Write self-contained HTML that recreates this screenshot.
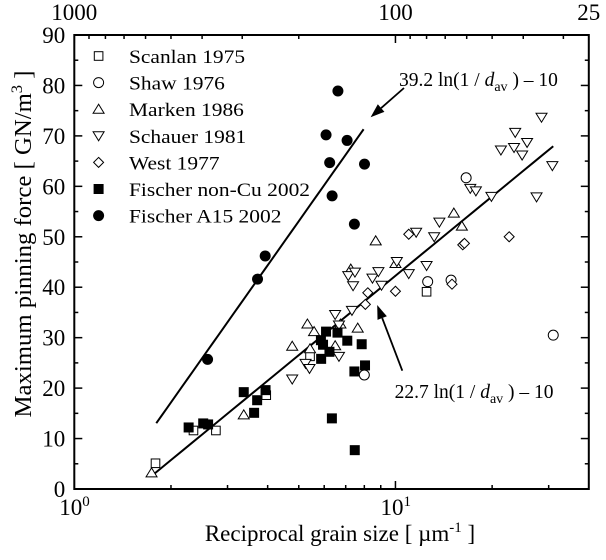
<!DOCTYPE html>
<html><head><meta charset="utf-8"><style>
html,body{margin:0;padding:0;background:#fff;}
svg{display:block;font-family:"Liberation Serif","DejaVu Serif",serif;}
</style></head><body>
<svg id="chart" width="606" height="560" viewBox="0 0 606 560" xmlns="http://www.w3.org/2000/svg"></svg>
<script>
const scanlan=[[1.79,5.1],[2.35,11.6],[2.76,11.6],[3.96,18.6],[5.42,26.3],[12.5,39.1]];
const shaw=[[8.0,22.6],[12.6,41.1],[14.9,41.4],[16.6,61.7],[31.0,30.5]];
const marken=[[1.74,3.2],[3.37,14.7],[4.77,28.3],[5.32,32.7],[5.58,31.2],[5.42,27.8],[6.49,28.4],[6.74,32.7],[7.63,31.9],[7.26,43.6],[8.68,49.2],[10.0,44.7],[15.2,54.7],[16.1,52.1]];
const schauer=[[4.77,21.8],[5.25,24.9],[5.40,23.9],[6.67,26.3],[6.49,34.6],[7.32,35.4],[6.67,32.5],[7.13,42.3],[7.48,43.0],[7.38,40.3],[8.48,41.8],[8.85,43.1],[9.05,40.4],[10.1,45.1],[11.0,42.7],[11.6,50.9],[12.5,44.3],[13.2,50.0],[13.7,52.9],[17.1,59.6],[17.8,59.1],[19.9,58.0],[21.3,67.2],[23.4,67.7],[23.6,70.7],[24.8,66.2],[25.7,68.7],[27.5,57.9],[28.5,73.7],[30.8,64.1]];
const west=[[8.06,36.6],[8.2,38.9],[10.0,39.2],[11.0,50.5],[15.0,40.6],[16.2,48.4],[16.4,48.7],[22.6,50.0]];
const fischerNonCu=[[2.27,12.2],[2.52,13.0],[2.61,12.8],[3.37,19.2],[3.63,15.1],[3.71,17.6],[3.94,19.6],[5.87,25.8],[6.08,31.2],[5.86,29.5],[5.95,28.6],[6.23,27.2],[6.60,31.0],[7.08,29.4],[6.34,14.0],[7.45,23.3],[7.85,28.7],[8.04,24.5],[7.47,7.7]];
const fischerA15=[[2.60,25.7],[3.72,41.6],[3.93,46.2],[6.08,70.2],[6.24,64.7],[6.35,58.1],[6.62,78.9],[7.07,69.1],[7.45,52.5],[8.01,64.4]];
const fitA15=[39.2,10,1.80,7.96];
const fitAll=[22.7,10,1.75,31.0];
const yTicks=[0,10,20,30,40,50,60,70,80,90];
const topTickNm=[900,800,700,600,500,400,300,200,90,80,70,60,50,40,30];

const L=74.3,R=588.8,T=35,B=489;
const X0=0,X1=Math.log10(40);
function sx(v){return L+(Math.log10(v)-X0)/(X1-X0)*(R-L);}
function sy(v){return B-v/90*(B-T);}
const svg=document.getElementById('chart');
const NS='http://www.w3.org/2000/svg';
function mk(tag,attrs,parent){const e=document.createElementNS(NS,tag);for(const k in attrs)e.setAttribute(k,attrs[k]);(parent||svg).appendChild(e);return e;}

const frame=mk('rect',{x:L,y:T,width:R-L,height:B-T,fill:'none',stroke:'#000','stroke-width':2});



const yax=mk('g',{});


for(let v=0;v<=90;v+=5){const y=sy(v);const len=v%10===0?8:4;
 mk('line',{x1:L,x2:L+len,y1:y,y2:y,stroke:'#000','stroke-width':1.5},yax);
 mk('line',{x1:R,x2:R-len,y1:y,y2:y,stroke:'#000','stroke-width':1.5},yax);}
yTicks.forEach(v=>{const t=mk('text',{x:L-9,y:sy(v)+8,'text-anchor':'end','font-size':23},yax);t.textContent=v;
 
 });

const xax=mk('g',{});


[1,2,3,4,5,6,7,8,9,10,20,30].forEach(v=>{const x=sx(v);const len=(v===1||v===10)?8:4;
 mk('line',{x1:x,x2:x,y1:B,y2:B-len,stroke:'#000','stroke-width':1.5},xax);});
[[1,'0'],[10,'1']].forEach(([v,e])=>{const t=mk('text',{x:sx(v)-15,y:515,'font-size':23},xax);
 
 
 t.appendChild(document.createTextNode('10'));const s=mk('tspan',{dy:-9,'font-size':15},t);s.textContent=e;});
const xt=mk('text',{x:340,y:541,'text-anchor':'middle','font-size':23});


xt.appendChild(document.createTextNode('Reciprocal grain size [ µm'));
const xs=mk('tspan',{dy:-9,'font-size':15},xt);xs.textContent='-1';
const xs2=mk('tspan',{dy:9},xt);xs2.textContent=' ]';

const tax=mk('g',{});


[1000,100].forEach(n=>{const x=sx(1000/n);mk('line',{x1:x,x2:x,y1:T,y2:T+8,stroke:'#000','stroke-width':1.5},tax);});
topTickNm.forEach(n=>{const x=sx(1000/n);mk('line',{x1:x,x2:x,y1:T,y2:T+4,stroke:'#000','stroke-width':1.5},tax);});
[[1000,'1000'],[100,'100'],[25,'25']].forEach(([n,s])=>{const t=mk('text',{x:sx(1000/n),y:20,'text-anchor':'middle','font-size':23},tax);t.textContent=s;
 
 });

const yt=mk('text',{x:0,y:0,'text-anchor':'middle','font-size':24,textLength:347,lengthAdjust:'spacingAndGlyphs',transform:'translate(31,244) rotate(-90)'});


yt.appendChild(document.createTextNode('Maximum pinning force [ GN/m'));
const ys=mk('tspan',{dy:-9,'font-size':16},yt);ys.textContent='3';
const ys2=mk('tspan',{dy:9},yt);ys2.textContent=' ]';

function marker(kind,x,y,g){
 const s=4.3;
 if(kind==='sq')return mk('rect',{x:x-s,y:y-s,width:2*s,height:2*s,fill:'#fff',stroke:'#000','stroke-width':1},g);
 if(kind==='fsq')return mk('rect',{x:x-5,y:y-5,width:10,height:10,fill:'#000'},g);
 if(kind==='ci')return mk('circle',{cx:x,cy:y,r:5,fill:'#fff',stroke:'#000','stroke-width':1},g);
 if(kind==='fci')return mk('circle',{cx:x,cy:y,r:5.5,fill:'#000'},g);
 if(kind==='up')return mk('polygon',{points:`${x},${y-5} ${x-5.5},${y+4} ${x+5.5},${y+4}`,fill:'#fff',stroke:'#000','stroke-width':1},g);
 if(kind==='dn')return mk('polygon',{points:`${x},${y+5} ${x-5.5},${y-4} ${x+5.5},${y-4}`,fill:'#fff',stroke:'#000','stroke-width':1},g);
 if(kind==='di')return mk('polygon',{points:`${x},${y-5} ${x+5},${y} ${x},${y+5} ${x-5},${y}`,fill:'#fff',stroke:'#000','stroke-width':1},g);
}
[[fitA15,'fit-line-a15'],[fitAll,'fit-line-all']].forEach(([f,name])=>{
 const pts=[];for(let i=0;i<=40;i++){const v=f[2]*Math.pow(f[3]/f[2],i/40);pts.push(sx(v)+','+sy(f[0]*Math.log(v)-f[1]));}
 const p=mk('polyline',{points:pts.join(' '),fill:'none',stroke:'#000','stroke-width':2});
 
 
});
const series=[[scanlan,'sq','Scanlan 1975','scanlan-1975'],[shaw,'ci','Shaw 1976','shaw-1976'],[marken,'up','Marken 1986','marken-1986'],[schauer,'dn','Schauer 1981','schauer-1981'],[west,'di','West 1977','west-1977'],[fischerNonCu,'fsq','Fischer non-Cu 2002','fischer-non-cu-2002'],[fischerA15,'fci','Fischer A15 2002','fischer-a15-2002']];
series.forEach(([data,kind,label,name])=>{
 const g=mk('g',{});
 
 
 data.forEach(d=>{const m=marker(kind,sx(d[0]),sy(d[1]),g);
  
  });
});
const lg=mk('g',{});


series.forEach(([data,kind,label,name],i)=>{
 const y=56+i*26.6;
 const e=mk('g',{},lg);
 
 
 marker(kind,98.6,y,e);
 const t=mk('text',{x:0,y:0,'font-size':19.5,transform:`translate(129,${y+7}) scale(1.1,1)`},e);t.textContent=label;
});
function ann(tx,ty,lbl,ax1,ay1,ax2,ay2,name){
 const g=mk('g',{});
 
 
 const t=mk('text',{x:tx,y:ty,'font-size':19.5},g);
 t.appendChild(document.createTextNode(lbl+' ln(1 / '));
 const d=mk('tspan',{'font-style':'italic'},t);d.textContent='d';
 const s=mk('tspan',{dy:5,'font-size':14},t);s.textContent='av';
 const r=mk('tspan',{dy:-5},t);r.textContent=' ) – 10';
 const ang=Math.atan2(ay2-ay1,ax2-ax1);const hl=14,hw=5;
 const bx=ax2-hl*Math.cos(ang),by=ay2-hl*Math.sin(ang);
 mk('line',{x1:ax1,y1:ay1,x2:bx,y2:by,stroke:'#000','stroke-width':1.8},g);
 mk('polygon',{points:`${ax2},${ay2} ${bx+hw*Math.sin(ang)},${by-hw*Math.cos(ang)} ${bx-hw*Math.sin(ang)},${by+hw*Math.cos(ang)}`,fill:'#000'},g);
}
ann(399,86,'39.2',404,88,370.6,117.3,'annotation-a15-fit');
ann(394.6,398,'22.7',402.3,370.7,377.2,305,'annotation-all-fit');
</script>
</body></html>
